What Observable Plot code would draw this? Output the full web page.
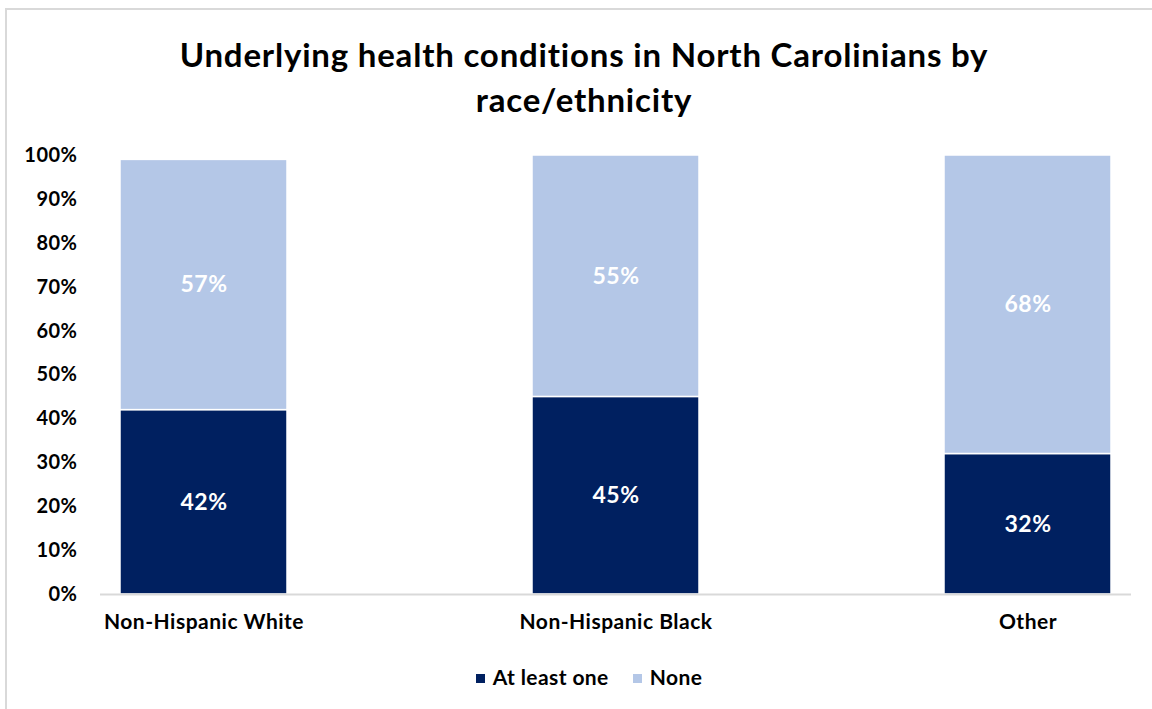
<!DOCTYPE html>
<html>
<head>
<meta charset="utf-8">
<script src="https://cdn.jsdelivr.net/npm/d3@7"></script>
<script src="https://cdn.jsdelivr.net/npm/@observablehq/plot@0.6"></script>
<style>
  html, body { margin: 0; padding: 0; background: #fff; }
  #frame {
    position: relative; width: 1152px; height: 709px; overflow: hidden;
    font-family: Lato, "Open Sans", sans-serif; color: #000;
  }
  #border {
    position: absolute; left: 5px; top: 8px; width: 1200px; height: 800px;
    border-top: 2px solid #d9d9d9; border-left: 2px solid #d9d9d9;
  }
  #title {
    position: absolute; left: 0; top: 32px; width: 1168px; text-align: center;
    font-weight: 700; font-size: 33px; letter-spacing: 0.8px; line-height: 45px;
  }
  #chart { position: absolute; left: 0; top: 130px; }
  #legend {
    position: absolute; left: 0; top: 664px; width: 1178px; text-align: center;
    font-weight: 700; font-size: 21px; letter-spacing: 0.4px; line-height: 26px;
  }
  #legend span.item { display: inline-block; margin: 0 12px; white-space: nowrap; }
  #legend span.sw { display: inline-block; width: 9px; height: 9px; margin-right: 8px; vertical-align: 2px; }
</style>
</head>
<body>
<div id="frame">
  <div id="border"></div>
  <div id="title">Underlying health conditions in North Carolinians by<br>race/ethnicity</div>
  <div id="chart"></div>
  <div id="legend"></div>
</div>
<script>
// Share of North Carolinians (%) with underlying health conditions
const groups = ["Non-Hispanic White", "Non-Hispanic Black", "Other"];
const atLeastOne = [42, 45, 32];
const none = [57, 55, 68];
const seriesNames = ["At least one", "None"];
const seriesColors = ["#002060", "#B4C7E7"];
const yTicks = [0, 10, 20, 30, 40, 50, 60, 70, 80, 90, 100];

const rows = [];
groups.forEach((g, i) => {
  rows.push({group: g, series: seriesNames[0], value: atLeastOne[i]});
  rows.push({group: g, series: seriesNames[1], value: none[i]});
});

const chart = Plot.plot({
  width: 1152,
  height: 509,
  marginLeft: 100,
  marginRight: 21,
  marginTop: 25,
  marginBottom: 45,
  style: {fontFamily: "Lato, 'Open Sans', sans-serif", fontWeight: 700, fontSize: "20px", letterSpacing: "0.5px", color: "#000", background: "transparent"},
  x: {domain: groups, paddingInner: 0.595, paddingOuter: 0.046, label: null, tickSize: 0, tickPadding: 20, fontSize: 21},
  y: {domain: [0, 100], ticks: yTicks, tickFormat: d => d + "%", label: null, tickSize: 0, tickPadding: 23},
  color: {domain: seriesNames, range: seriesColors},
  marks: [
    Plot.axisX({tickSize: 0, tickPadding: 20, fontSize: 21, label: null}),
    Plot.axisY({ticks: yTicks, tickFormat: d => d + "%", tickSize: 0, tickPadding: 23, fontSize: 20, label: null}),
    Plot.barY(rows, Plot.stackY({x: "group", y: "value", fill: "series", order: seriesNames, stroke: "white", strokeWidth: 1.5})),
    Plot.ruleY([0], {stroke: "#d9d9d9", strokeWidth: 2}),
    Plot.text(rows, Plot.stackY({x: "group", y: "value", z: "series", order: seriesNames, text: d => d.value + "%", fill: "white", fontSize: 23, fontWeight: 700}))
  ]
});
document.getElementById("chart").appendChild(chart);

const legend = document.getElementById("legend");
seriesNames.forEach((name, i) => {
  const item = document.createElement("span");
  item.className = "item";
  const sw = document.createElement("span");
  sw.className = "sw";
  sw.style.background = seriesColors[i];
  item.appendChild(sw);
  item.appendChild(document.createTextNode(name));
  legend.appendChild(item);
});
</script>
</body>
</html>
